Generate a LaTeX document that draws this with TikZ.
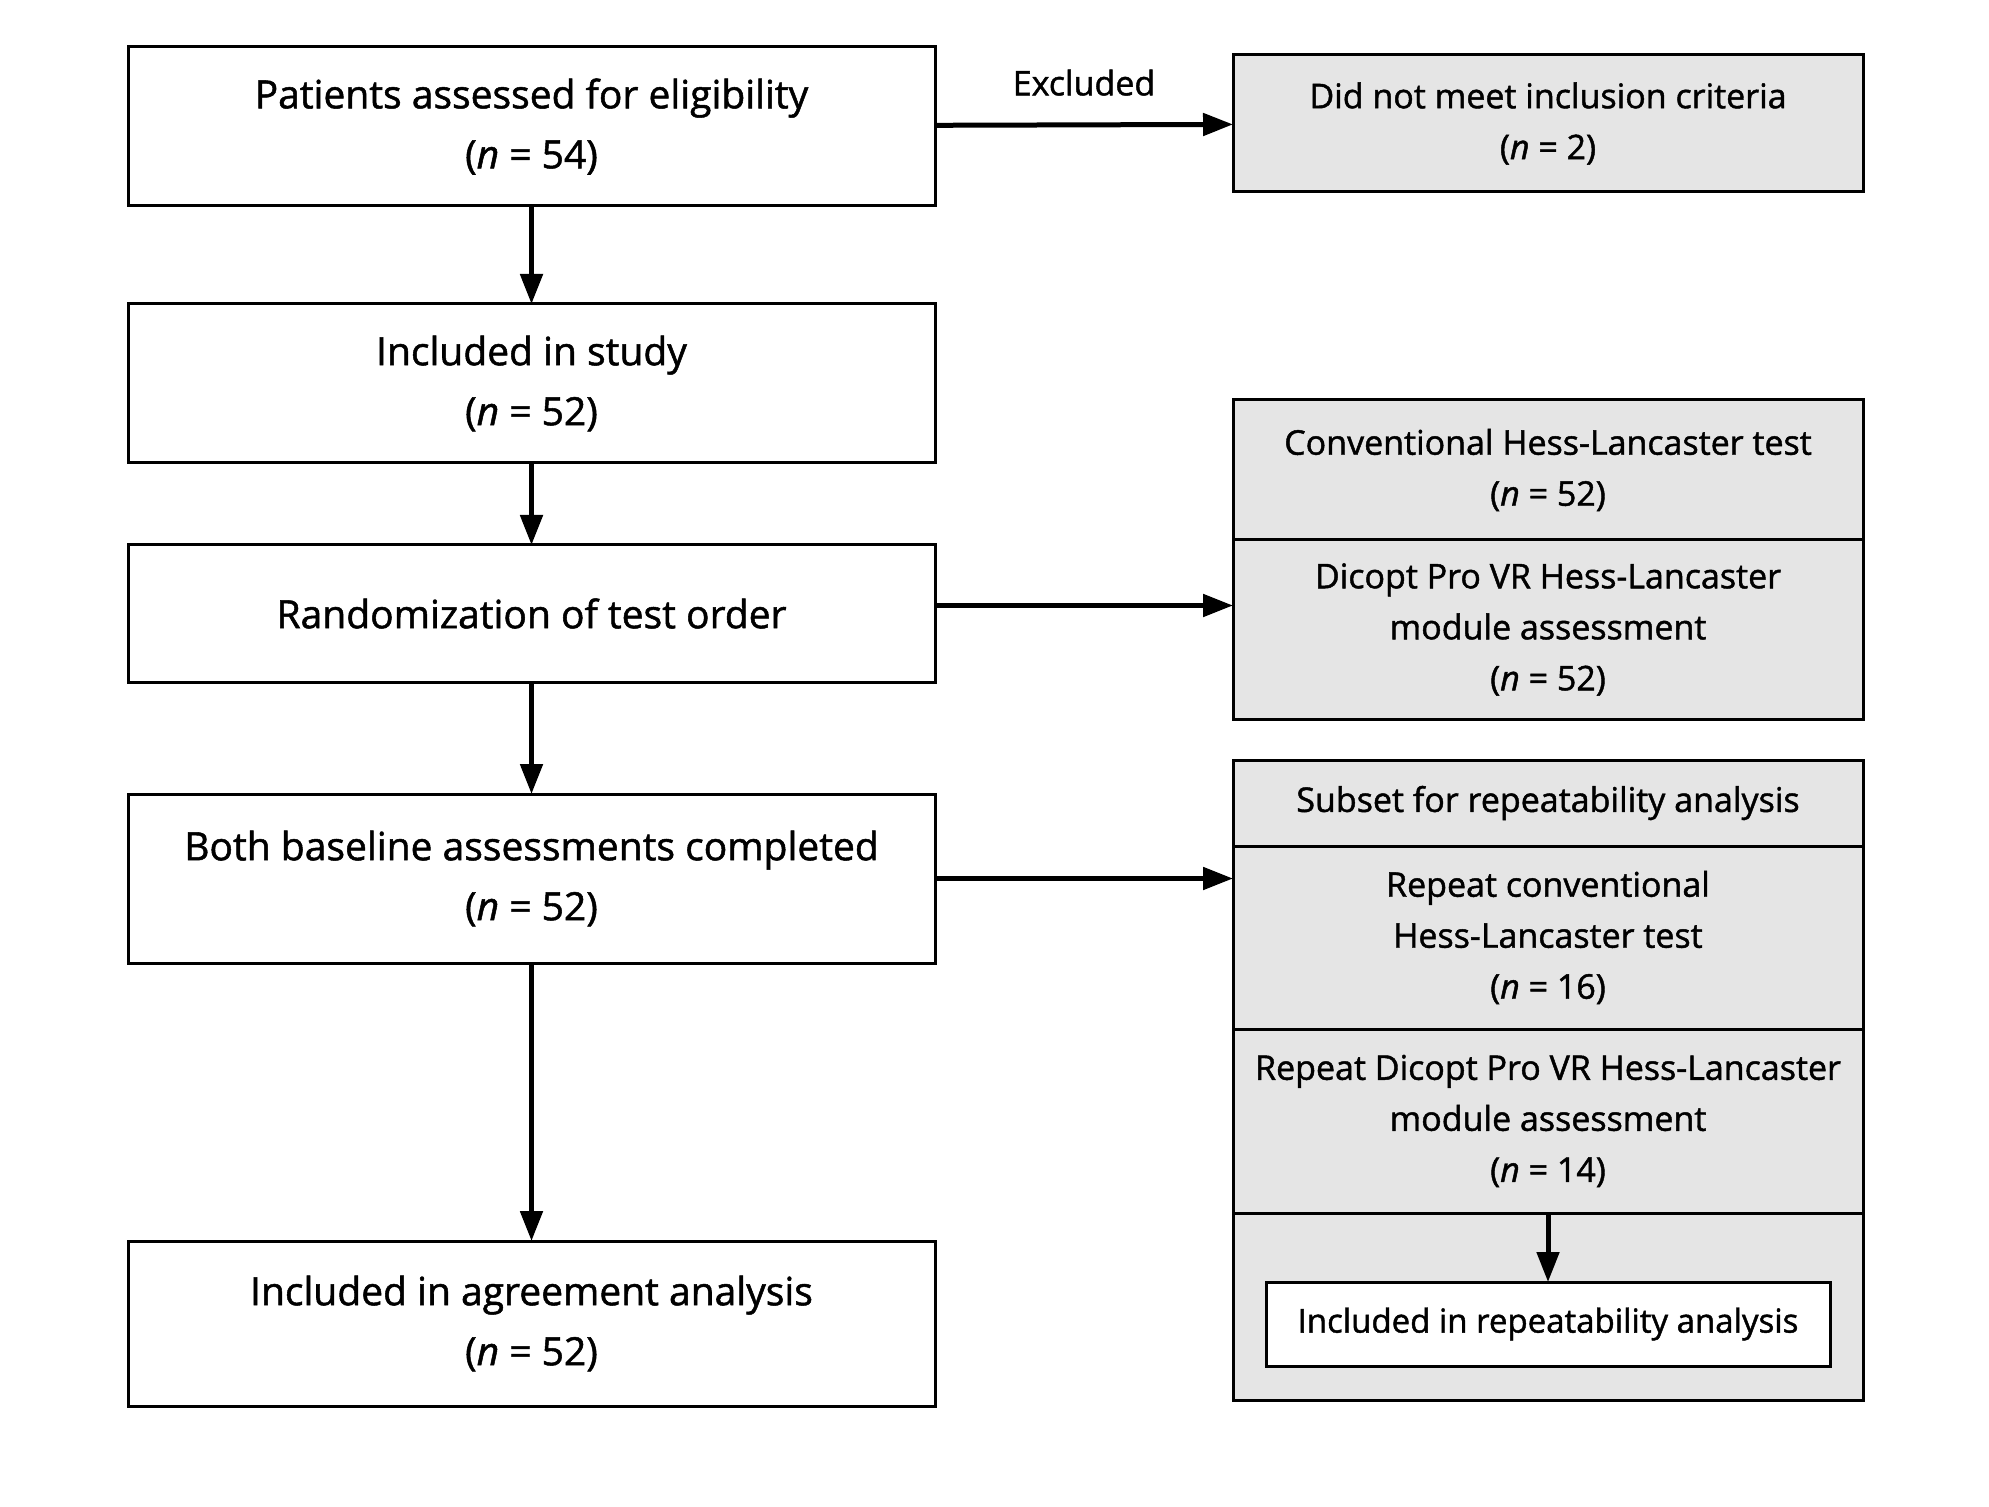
\documentclass[tikz,border=0pt]{standalone}
\usepackage{fontspec}
\setmainfont{Open Sans}[FakeBold=1.3]
\usetikzlibrary{arrows.meta, positioning}

\newcommand{\nn}[1]{(\textit{n} = #1)}

\begin{document}
\begin{tikzpicture}[
        x=0.5pt, y=-0.5pt,
        box/.style={rectangle, draw=black, fill=white, line width=1.5pt, outer sep=0pt, minimum width=403.5pt, align=center, font=\fontsize{19.5}{30}\selectfont},
        sidebox/.style={box, fill=black!10, minimum width=315pt, font=\fontsize{17}{25.5}\selectfont},
        arrow/.style={-{Triangle[length=15pt, width=11pt]}, line width=2.5pt}
    ]

    \useasboundingbox (0,0) rectangle (1989,1507);

    % left column
    \node (elig) [box, minimum height=79.5pt] at (531.5,126.5) {Patients assessed for eligibility \\ \nn{54}};
    \node (incl) [box, minimum height=79.5pt] at (531.5,383.5) {Included in study \\ \nn{52}};
    \node (rand) [box, minimum height=68.5pt] at (531.5,613.5) {Randomization of test order};
    \node (base) [box, minimum height=84.5pt] at (531.5,878.5) {Both baseline assessments completed \\ \nn{52}};
    \node (agree) [box, minimum height=82.5pt] at (531.5,1323.5) {Included in agreement analysis \\ \nn{52}};

    % right column
    \node (excl) [sidebox, minimum height=68.5pt] at (1548,123.5) {Did not meet inclusion criteria \\ \nn{2}};
    \node (conv) [sidebox, minimum height=70pt] at (1548,470) {Conventional Hess-Lancaster test \\ \nn{52}};
    \node (dicopt) [sidebox, minimum height=89.5pt] at (1548,629.5) {Dicopt Pro VR Hess-Lancaster \\ module assessment \\ \nn{52}};
    \node (subset) [sidebox, minimum height=43pt] at (1548,803) {Subset for repeatability analysis};
    \node (repconv) [sidebox, minimum height=91.5pt] at (1548,937.5) {Repeat conventional \\ Hess-Lancaster test \\ \nn{16}};
    \node (repdicopt) [sidebox, minimum height=92pt] at (1548,1121) {Repeat Dicopt Pro VR Hess-Lancaster \\ module assessment \\ \nn{14}};
    \node (repbot) [sidebox, minimum height=93.5pt] at (1548,1306.5) {};
    \node (repinc) [box, minimum width=282pt, minimum height=42pt, font=\fontsize{16.5}{25}\selectfont] at (1548,1324) {Included in repeatability analysis};

    \draw [arrow] (elig) -- (incl);
    \draw [arrow] (incl) -- (rand);
    \draw [arrow] (rand) -- (base);
    \draw [arrow] (base) -- (agree);
    \draw [arrow] (elig) -- node[above=10pt, font=\fontsize{17}{25}\selectfont] {Excluded} (excl);
    \draw [arrow] ([yshift=4pt]rand.east) -- ([yshift=4pt]rand.east -| dicopt.west);
    \draw [arrow] (base.east) -- (base.east -| repconv.west);
    \draw [arrow] (repbot.north) -- (repinc);

\end{tikzpicture}
\end{document}
